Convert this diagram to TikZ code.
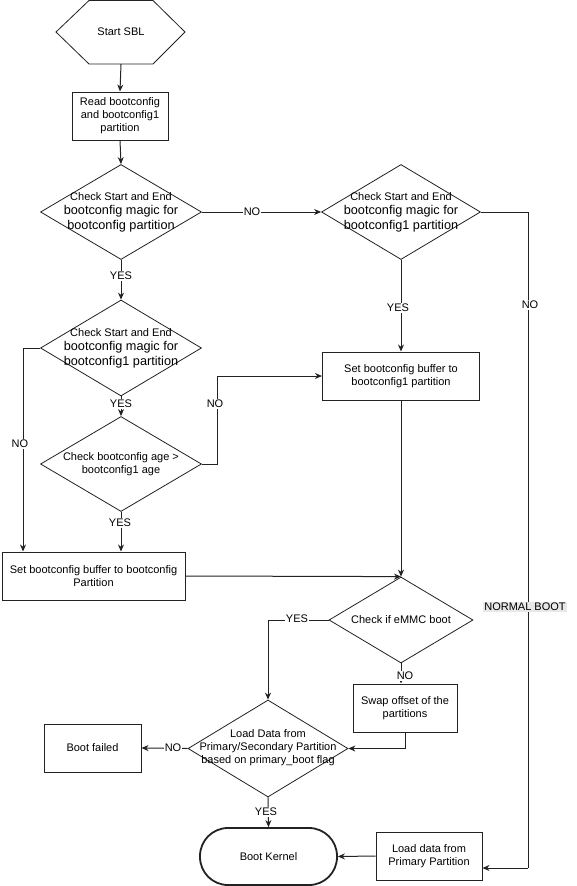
\documentclass[tikz,border=0pt]{standalone}
\usepackage{fontspec}
\setmainfont{Liberation Sans}
\usetikzlibrary{shapes.geometric,arrows.meta}
\newcommand{\fsm}{\fontsize{11pt}{13pt}\selectfont}
\newcommand{\fbg}{\fontsize{12.7pt}{14.5pt}\selectfont}
\definecolor{ln}{HTML}{222222}
\definecolor{lblgray}{HTML}{E8E8E8}
\tikzset{
  every node/.style={text=black},
  box/.style={draw=ln, line width=1pt, rectangle, align=center, font=\fsm, inner sep=0pt},
  dia/.style={draw=ln, line width=0.8pt, diamond, inner sep=0pt},
  dtext/.style={align=center, font=\fbg, inner sep=0pt},
  dtextsm/.style={align=center, font=\fsm, inner sep=0pt},
  lbl/.style={fill=white, font=\fsm, inner sep=1pt},
  conn/.style={draw=ln, line width=1pt},
  arr/.style={conn, -{Stealth[length=7pt,width=6pt]}},
}
\begin{document}
\begin{tikzpicture}[x=1pt,y=-1pt]
\useasboundingbox[fill=white] (0,0) rectangle (577,886);

% Start hexagon
\node[minimum width=129pt, minimum height=64pt, inner sep=0pt, font=\fsm] (start) at (121,32) {Start SBL};
\draw[ln, line width=0.8pt] (56,32) -- (89,0.5) -- (153,0.5) -- (185,32) -- (153,64) -- (89,64) -- cycle;

% Read box
\node[box, minimum width=96pt, minimum height=48pt] (read) at (120,116) {Read bootconfig\\and bootconfig1\\partition};

% Diamond 1
\node[dia, minimum width=161pt, minimum height=95pt] (d1) at (121,212) {};
\node[dtext] (d1t) at (121,212) {{\fsm Check Start and End}\\bootconfig magic for\\bootconfig partition};

% Diamond 2
\node[dia, minimum width=159pt, minimum height=95pt] (d2) at (401,212) {};
\node[dtext] (d2t) at (401,212) {{\fsm Check Start and End}\\bootconfig magic for\\bootconfig1 partition};

% Set buffer to bootconfig1
\node[box, minimum width=157pt, minimum height=48pt] (buf1) at (401,376) {Set bootconfig buffer to\\bootconfig1 partition};

% Diamond 3
\node[dia, minimum width=161pt, minimum height=96pt] (d3) at (121,348) {};
\node[dtext] (d3t) at (121,348) {{\fsm Check Start and End}\\bootconfig magic for\\bootconfig1 partition};

% Diamond 4
\node[dia, minimum width=161pt, minimum height=95pt] (d4) at (121,464) {};
\node[dtextsm] (d4t) at (121,464) {Check bootconfig age >\\bootconfig1 age};

% Set buffer to bootconfig
\node[box, minimum width=183pt, minimum height=48pt] (buf0) at (93.5,576) {Set bootconfig buffer to bootconfig\\Partition};

% Diamond 5
\node[dia, minimum width=144pt, minimum height=86pt] (d5) at (401,620) {};
\node[dtextsm] (d5t) at (401,620) {Check if eMMC boot};

% Swap box
\node[box, minimum width=104pt, minimum height=48pt] (swap) at (405,708) {Swap offset of the\\partitions};

% Diamond 6
\node[dia, minimum width=160pt, minimum height=97pt] (d6) at (268,748.5) {};
\node[dtextsm] (d6t) at (268,748) {Load Data from\\Primary/Secondary Partition\\based on primary\_boot flag};

% Boot failed
\node[box, minimum width=97pt, minimum height=48pt] (fail) at (92.5,748) {Boot failed};

% Boot Kernel
\node[draw=ln, line width=1.8pt, rounded corners=28pt, minimum width=137pt, minimum height=57pt, font=\fsm, inner sep=0pt] (kern) at (268.5,856.5) {Boot Kernel};

% Load data from primary
\node[box, minimum width=106pt, minimum height=48pt] (load) at (429,856) {Load data from\\Primary Partition};

% helper coordinates
\coordinate (c3) at (23,348);
\coordinate (c4) at (217,464);
\coordinate (rr) at (528,212);
\coordinate (rb) at (528,868);
\coordinate (c5) at (268,620);

% connectors
\draw[arr] (start.south) -- (read.north);
\draw[arr] (read.south) -- (d1.north);
\draw[arr] (d1.east) -- (d2.west);
\draw[arr] (d1.south) -- (d3.north);
\draw[arr] (d2.south) -- (d2.south |- buf1.north);
\draw[conn] (d2.east) -- (rr) -- (rb);
\draw[arr] (rb) -- (rb -| load.east);
\draw[arr] (d3.west) -- (c3) -- (c3 |- buf0.north);
\draw[arr] (d3.south) -- (d4.north);
\draw[arr] (d4.east) -- (c4) |- (buf1.west);
\draw[arr] (d4.south) -- (d4.south |- buf0.north);
\draw[arr] (buf0.east) -- (d5.north);
\draw[arr] (buf1.south) -- (d5.north);
\draw[arr] (d5.west) -- (c5) -- (d6.north);
\draw[arr] (d5.south) -- (d5.south |- swap.north);
\draw[arr] (swap.south) |- (d6.east);
\draw[arr] (d6.west) -- (fail.east);
\draw[arr] (d6.south) -- (kern.north);
\draw[arr] (load.west) -- (kern.east);

% labels
\node[lbl] (l1) at (252,212) {NO};
\node[lbl] (l2) at (121,276) {YES};
\node[lbl] (l3) at (398,308) {YES};
\node[lbl] (l4) at (530,305) {NO};
\node[lbl, fill=lblgray] (l5) at (525,607) {NORMAL BOOT};
\node[lbl] (l6) at (20,444) {NO};
\node[lbl] (l7) at (121,404) {YES};
\node[lbl] (l8) at (215,404) {NO};
\node[lbl] (l9) at (120,523) {YES};
\node[lbl] (l10) at (297,619) {YES};
\node[lbl] (l11) at (405,676) {NO};
\node[lbl] (l12) at (173,748) {NO};
\node[lbl] (l13) at (266,812) {YES};
\end{tikzpicture}
\end{document}
